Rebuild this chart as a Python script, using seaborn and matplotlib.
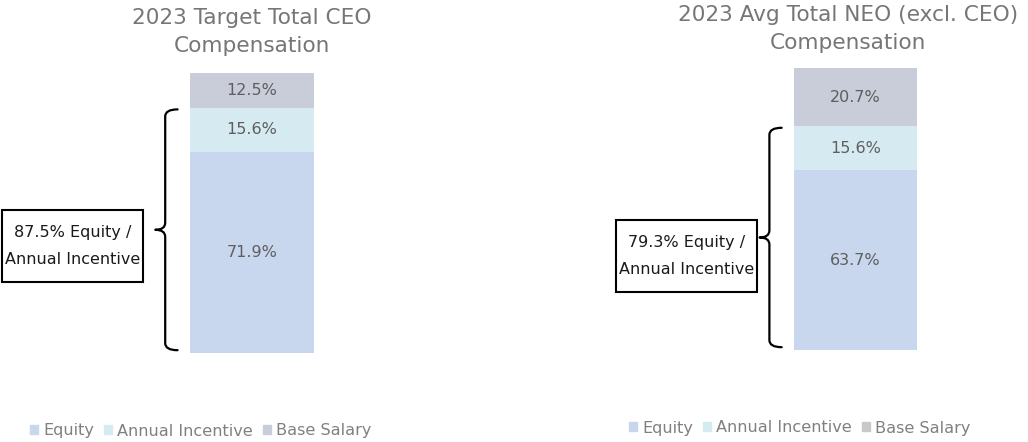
import matplotlib
matplotlib.use("Agg")
import matplotlib.pyplot as plt
import matplotlib.transforms as mtransforms
from matplotlib.patches import Patch, PathPatch, Rectangle
from matplotlib.path import Path
import seaborn as sns

# data
segments = ["Equity", "Annual Incentive", "Base Salary"]
ceo_values = [71.9, 15.6, 12.5]
neo_values = [63.7, 15.6, 20.7]
ceo_title = "2023 Target Total CEO\nCompensation"
neo_title = "2023 Avg Total NEO (excl. CEO)\nCompensation"
ceo_note = "87.5% Equity /\nAnnual Incentive"
neo_note = "79.3% Equity /\nAnnual Incentive"

seg_colors = ["#c8d6ee", "#d5ebf1", "#c9ccd9"]
ceo_legend_colors = ["#c8d6ee", "#d5ebf1", "#c9ccd9"]
neo_legend_colors = ["#c8d6ee", "#d5ebf1", "#c8c8c8"]

sns.set_theme(style="white")
plt.rcParams["font.family"] = ["DejaVu Sans"]

W, H = 1028, 442
fig = plt.figure(figsize=(W / 100, H / 100), dpi=100)


def brace(ax, x, y0, y1, hook, tip, r=2.5):
    ym = (y0 + y1) / 2
    verts = [(x + hook, y1), (x, y1), (x, y1 - r),
             (x, ym + r), (x, ym), (x - tip, ym),
             (x, ym), (x, ym - r),
             (x, y0 + r), (x, y0), (x + hook, y0)]
    codes = [Path.MOVETO, Path.CURVE3, Path.CURVE3,
             Path.LINETO, Path.CURVE3, Path.CURVE3,
             Path.CURVE3, Path.CURVE3,
             Path.LINETO, Path.CURVE3, Path.CURVE3]
    ax.add_patch(PathPatch(Path(verts, codes), fill=False, lw=1.6,
                           ec="black", capstyle="round", joinstyle="round"))


def draw_panel(ax, values, title, title_pos, note, note_box, legend_colors,
               legend_xy, xlim):
    # stacked bar: draw cumulative totals from the top down
    cum = [sum(values[:i + 1]) for i in range(len(values))]
    for i in reversed(range(len(values))):
        sns.barplot(x=["bar"], y=[cum[i]], color=seg_colors[i], width=1,
                    linewidth=0, saturation=1, ax=ax)
    bottoms = [0] + cum[:-1]
    for v, b in zip(values, bottoms):
        ax.text(0, b + v / 2, f"{v}%", ha="center", va="center",
                fontsize=11.5, color="#5f5f5f")

    ax.set_xlim(*xlim)
    ax.set_ylim(0, 100)
    ax.axis("off")

    trans = mtransforms.blended_transform_factory(ax.transData, fig.transFigure)
    ax.text(title_pos[0], title_pos[1], title, transform=trans, ha="center",
            va="center", fontsize=15.6, color="#767676", linespacing=1.5)

    incl = values[0] + values[1]
    brace(ax, -0.70, 1.0, incl - 0.5, 0.10, 0.08)

    x0, y0, x1, y1 = note_box
    ax.add_patch(Rectangle((x0, y0), x1 - x0, y1 - y0, fc="white", ec="black",
                           lw=1.5, clip_on=False))
    ax.text((x0 + x1) / 2, (y0 + y1) / 2, note, ha="center", va="center",
            fontsize=11.5, color="#1a1a1a", linespacing=1.95)

    handles = [Patch(color=c, label=s) for c, s in zip(legend_colors, segments)]
    ax.legend(handles=handles, loc="center left", bbox_to_anchor=legend_xy,
              bbox_transform=fig.transFigure, ncol=3, frameon=False,
              handlelength=0.5, handleheight=0.5, handletextpad=0.3,
              columnspacing=0.65, fontsize=11.6, labelcolor="#808080",
              borderpad=0, borderaxespad=0)


ax1 = fig.add_axes([0, 1 - 353 / H, 0.5, 280 / H])
draw_panel(ax1, ceo_values, ceo_title, (0.0, 1 - 31.5 / H), ceo_note,
           (-2.016, 25.4, -0.879, 51.1),
           ceo_legend_colors, (30 / W, 1 - 431 / H),
           (-252 / 124, (514 - 252) / 124))

ax2 = fig.add_axes([0.5, 1 - 350 / H, 0.5, 282 / H])
draw_panel(ax2, neo_values, neo_title, (-0.06, 1 - 29 / H), neo_note,
           (-1.947, 20.6, -0.801, 46.1),
           neo_legend_colors, (629 / W, 1 - 428 / H),
           (-341.5 / 123, (514 - 341.5) / 123))

fig.savefig("out.png", dpi=100)
